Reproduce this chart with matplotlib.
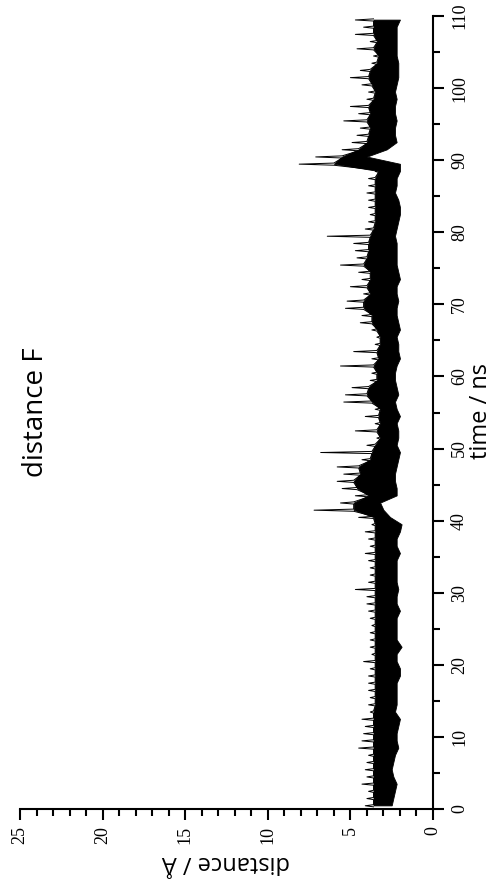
import matplotlib
matplotlib.use("Agg")
import matplotlib.pyplot as plt
from matplotlib.ticker import MultipleLocator
import numpy as np

# per-ns readings of the trace (distance in Angstrom), ns 0..109
d_hi = [4.1, 4.0, 3.9, 4.3, 4.0, 4.1, 4.0, 3.9, 4.5, 4.3,
        4.2, 4.1, 4.3, 3.8, 3.9, 3.8, 3.9, 3.9, 3.9, 3.8,
        4.2, 3.7, 3.8, 3.8, 3.8, 3.7, 3.8, 3.9, 4.0, 4.0,
        4.7, 3.9, 3.8, 3.8, 3.9, 4.1, 3.8, 3.9, 4.1, 3.7,
        4.5, 7.2, 5.6, 4.7, 5.5, 5.8, 5.4, 5.8, 4.3, 6.8,
        4.0, 3.4, 4.7, 3.5, 4.1, 3.5, 5.4, 5.3, 4.9, 3.8,
        3.7, 5.6, 3.7, 4.8, 3.5, 3.4, 3.7, 4.4, 4.3, 5.3,
        5.2, 4.2, 5.0, 4.3, 4.5, 5.6, 4.6, 4.7, 4.8, 6.4,
        4.1, 3.9, 3.8, 3.9, 3.9, 4.0, 3.9, 3.9, 3.5, 8.1,
        7.1, 5.5, 4.9, 4.6, 4.4, 5.4, 4.5, 5.0, 4.0, 3.9,
        4.3, 5.0, 4.4, 3.7, 3.6, 4.6, 3.8, 4.7, 4.2, 4.7]
core_hi = [3.6] * 14 + [3.5] * 26 + [
        3.6, 4.8, 4.8, 3.9, 4.6, 4.8, 4.4, 4.5, 3.8, 3.7,
        3.5, 3.2, 3.4, 3.2, 3.3, 3.2, 3.7, 4.0, 3.9, 3.4,
        3.4, 3.6, 3.3, 3.4, 3.2, 3.2, 3.4, 3.7, 3.7, 4.2,
        4.2, 3.8, 4.0, 3.8, 3.8, 4.2, 4.0, 3.9, 3.9, 3.8,
        3.6, 3.5, 3.5, 3.5, 3.5, 3.5, 3.5, 3.5, 3.3, 6.0,
        5.5, 4.5, 4.0, 3.9, 3.8, 4.0, 3.8, 3.9, 3.6, 3.5,
        3.7, 3.9, 3.8, 3.4, 3.3, 3.6, 3.4, 3.6, 3.6, 3.6]
d_lo = [2.5, 2.4, 2.3, 2.2, 2.4, 2.5, 2.4, 2.3, 2.1, 2.2,
        2.2, 2.1, 2.0, 2.3, 2.2, 2.2, 2.2, 2.2, 2.0, 2.0,
        2.2, 2.2, 1.9, 2.2, 2.2, 2.2, 2.2, 2.0, 2.2, 2.2,
        2.1, 2.2, 2.2, 2.2, 2.2, 2.0, 2.2, 2.2, 2.0, 1.9,
        2.6, 3.0, 3.2, 2.2, 2.2, 2.3, 2.3, 2.2, 2.1, 2.0,
        2.2, 2.1, 2.1, 2.2, 2.0, 2.2, 2.3, 2.1, 2.2, 2.3,
        2.3, 2.2, 2.0, 2.1, 2.1, 2.2, 2.0, 2.1, 2.2, 2.2,
        2.1, 2.2, 2.2, 2.0, 2.1, 2.2, 2.2, 2.2, 2.2, 2.3,
        2.2, 2.1, 2.0, 2.0, 2.1, 2.3, 2.2, 2.2, 2.0, 2.0,
        4.0, 2.8, 2.2, 2.3, 2.3, 2.2, 2.3, 2.3, 2.2, 2.3,
        2.2, 2.1, 2.1, 2.1, 2.2, 2.2, 2.2, 2.2, 2.2, 2.0]
ns = np.arange(len(d_hi))

fig = plt.figure(figsize=(4.96, 8.92), dpi=100)
ax = fig.add_axes([20 / 496, 83 / 892, 413 / 496, 793 / 892])

# dense core of the trace
ax.fill_betweenx(ns + 0.5, d_lo, core_hi, color="black", lw=0.6)
# thin spikes: the maximum reached in each ns
spk_t = np.column_stack([ns + 0.3, ns + 0.45, ns + 0.6]).ravel()
spk_d = np.column_stack([core_hi, d_hi, core_hi]).ravel()
ax.plot(spk_d, spk_t, color="black", lw=0.7)

ax.set_xlim(25, 0)
ax.set_ylim(0, 110)
ax.spines["top"].set_visible(False)
ax.spines["left"].set_visible(False)
ax.spines["bottom"].set_linewidth(1.5)
ax.spines["right"].set_linewidth(1.5)
ax.yaxis.tick_right()
ax.xaxis.set_major_locator(MultipleLocator(5))
ax.xaxis.set_minor_locator(MultipleLocator(1))
ax.yaxis.set_major_locator(MultipleLocator(10))
ax.yaxis.set_minor_locator(MultipleLocator(5))
ax.tick_params(which="major", length=8, width=1.5, direction="out")
ax.tick_params(which="minor", length=5, width=1.5, direction="out")
ax.tick_params(axis="x", pad=4)
ax.tick_params(axis="y", pad=5)
for lab in ax.get_xticklabels():
    lab.set_rotation(90)
    lab.set_family("Liberation Serif")
    lab.set_fontsize(13)
for lab in ax.get_yticklabels():
    lab.set_rotation(90)
    lab.set_va("center")
    lab.set_family("Liberation Serif")
    lab.set_fontsize(13)

fig.text(226 / 496, 1 - 862 / 892, "distance / Å", rotation=180,
         ha="center", va="center", family="Open Sans", fontsize=17)
fig.text(481 / 496, 1 - 411 / 892, "time / ns", rotation=90,
         ha="center", va="center", family="Open Sans", fontsize=17)
fig.text(36 / 496, 1 - 412 / 892, "distance F", rotation=90,
         ha="center", va="center", family="Open Sans", fontsize=20)

fig.savefig("out.png", dpi=100)
